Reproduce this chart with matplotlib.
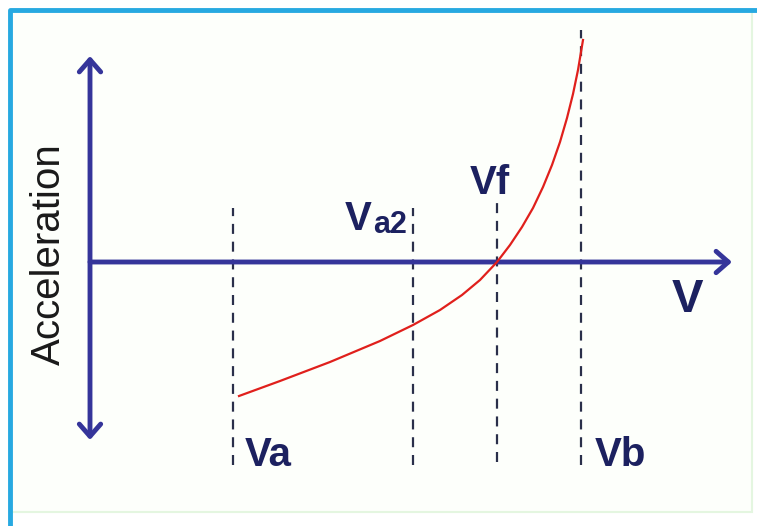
import numpy as np
import matplotlib.pyplot as plt
from matplotlib.patches import FancyArrowPatch, Rectangle

# speed markers on the V axis (axis origin at 0)
v_names = ['Va', 'Va2', 'Vf', 'Vb']
v_pos = [143, 323, 407, 491]
v_top = [54, 54, 59, 232]
v_bottom = [-203, -203, -200, -203]

# acceleration vs speed curve
curve_v = [149, 190, 240, 290, 323, 350, 372, 390, 407, 420, 432, 443, 453,
           462, 470, 477, 483, 488, 493]
curve_a = [-134, -119, -100, -79, -63, -48, -33, -18, 0, 17, 35, 54, 75,
           97, 120, 144, 168, 192, 222]

navy = '#1c2160'
axis_col = '#35359a'
red = '#e0201c'

plt.rcParams['font.family'] = ['Liberation Sans', 'DejaVu Sans']

fig = plt.figure(figsize=(7.57, 5.26), dpi=100)
fig.patch.set_facecolor('white')
ax = fig.add_axes([0, 0, 1, 1])
ax.set_xlim(-90, 667)
ax.set_ylim(-264, 262)
ax.axis('off')

# frame
ax.add_patch(Rectangle((-80, -250), 742, 502, facecolor='#fdfffb',
                       edgecolor='#e4f6e0', lw=1.5, zorder=0))
ax.plot([-80, -80, 667], [-264, 252, 252], color='#27a9e1', lw=3.5,
        solid_capstyle='butt', zorder=1)

# axes arrows (open chevron heads)
style = '<->,head_length=0.4,head_width=0.35'
ax.add_patch(FancyArrowPatch((0, -178), (0, 206), arrowstyle=style,
                             mutation_scale=22, color=axis_col, lw=3.5,
                             shrinkA=0, shrinkB=0, joinstyle='round',
                             capstyle='round', zorder=3))
ax.add_patch(FancyArrowPatch((0, 0), (642, 0), arrowstyle='-' + style[2:],
                             mutation_scale=22, color=axis_col, lw=3.5,
                             shrinkA=0, shrinkB=0, joinstyle='round',
                             capstyle='round', zorder=3))

# dashed speed lines
for x, t, b in zip(v_pos, v_top, v_bottom):
    ax.plot([x, x], [b, t], color='#2a2f4a', lw=1.6, ls=(0, (4.5, 3.5)), zorder=2)

ax.plot(curve_v, curve_a, color=red, lw=1.6, zorder=4)

# labels
kw = dict(color=navy, fontsize=29, fontweight='bold')
ax.text(155, -193, 'Va', ha='left', va='center', **kw)
ax.text(505, -193, 'Vb', ha='left', va='center', **kw)
ax.text(380, 79, 'Vf', ha='left', va='center', **kw)
ax.text(255, 43, 'V', ha='left', va='center', **kw)
ax.text(283, 37, 'a2', ha='left', va='center', color=navy, fontsize=22,
        fontweight='bold')
ax.text(597, -38, 'V', ha='center', va='center', color=navy, fontsize=34,
        fontweight='bold')
ax.text(-41, 8, 'Acceleration', rotation=90, ha='center', va='center',
        color='#1a1a1a', fontsize=29)

fig.savefig('out.png', dpi=100)
